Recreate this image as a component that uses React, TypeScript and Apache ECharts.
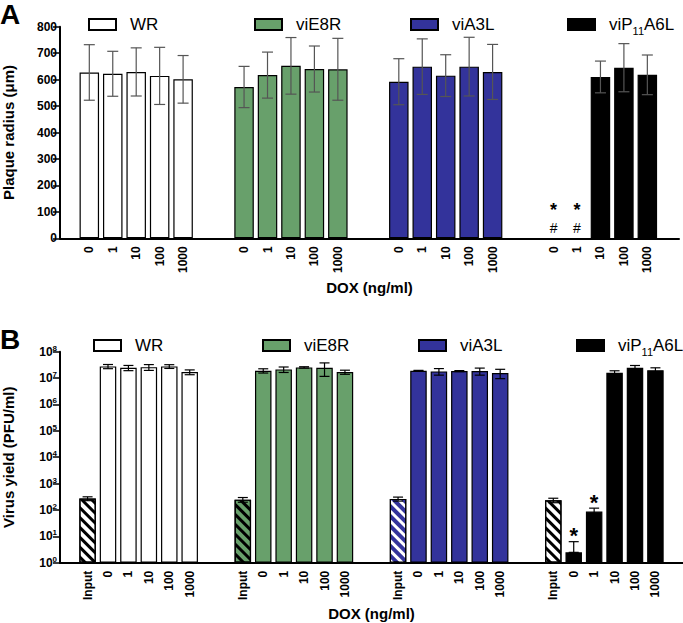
import React, { useEffect, useRef } from "react";
import * as echarts from "echarts";

// ---------- data ----------
const groupNames = ["WR", "viE8R", "viA3L", "viP11A6L"];
const groupColors = ["#ffffff", "#68a06b", "#33339b", "#000000"];
const inputColors = ["#ffffff", "#68a06b", "#33339b", "#ffffff"];
const stripeColors = ["#000000", "#000000", "#ffffff", "#000000"];

const doxLabelsA = ["0", "1", "10", "100", "1000"];
const doxLabelsB = ["Input", "0", "1", "10", "100", "1000"];

// Panel A: plaque radius (µm), mean and SD
const wrRadius = [627, 622, 629, 614, 601];
const wrRadiusSD = [105, 85, 91, 108, 90];
const e8rRadius = [572, 617, 652, 640, 639];
const e8rRadiusSD = [78, 87, 107, 87, 117];
const a3lRadius = [592, 649, 615, 649, 629];
const a3lRadiusSD = [87, 105, 79, 111, 104];
const a6lRadius = [null, null, 610, 645, 618];
const a6lRadiusSD = [null, null, 60, 91, 75];

// Panel B: virus yield (PFU/ml), mean and SD
const wrYield = [270, 2.77e7, 2.46e7, 2.6e7, 2.77e7, 1.69e7];
const wrYieldSD = [45, 5e6, 5.5e6, 6.5e6, 4.5e6, 3.5e6];
const e8rYield = [246, 1.9e7, 2.13e7, 2.54e7, 2.46e7, 1.69e7];
const e8rYieldSD = [50, 3.5e6, 5e6, 1.5e6, 1.3e7, 3e6];
const a3lYield = [262, 1.9e7, 1.79e7, 1.84e7, 1.84e7, 1.55e7];
const a3lYieldSD = [45, 6e5, 5e6, 8e5, 5.5e6, 6e6];
const a6lYield = [233, 2.47, 87, 1.59e7, 2.45e7, 2.0e7];
const a6lYieldSD = [45, 3.8, 30, 3e6, 5.5e6, 4.5e6];

// significance marks (viP11A6L group)
const sigRadiusIdx = [0, 1];
const sigRadiusMarks = ["*", "#"];
const sigYieldIdx = [1, 2];

const radiusMeans = [wrRadius, e8rRadius, a3lRadius, a6lRadius];
const radiusSDs = [wrRadiusSD, e8rRadiusSD, a3lRadiusSD, a6lRadiusSD];
const yieldMeans = [wrYield, e8rYield, a3lYield, a6lYield];
const yieldSDs = [wrYieldSD, e8rYieldSD, a3lYieldSD, a6lYieldSD];

// ---------- layout helpers ----------
const SUB = 10;
const GAP = 26;
const FONT = "'Liberation Sans', Arial, sans-serif";

function buildLayout(labels: string[], lead: number, total: number) {
  const span = (labels.length - 1) * SUB + GAP;
  const pos = groupNames.map((_, g) => labels.map((_, i) => lead + g * span + i * SUB));
  const cats: string[] = new Array(total).fill("");
  pos.forEach((row) => row.forEach((p, i) => (cats[p] = labels[i])));
  return { pos, cats };
}

const layA = buildLayout(doxLabelsA, 12, 264);
const layB = buildLayout(doxLabelsB, 13, 305);

function decalFor(g: number) {
  return {
    symbol: "rect",
    symbolSize: 1,
    dashArrayX: [[1, 0]],
    dashArrayY: [3, 4],
    rotation: Math.PI / 4,
    color: stripeColors[g],
  };
}

function errRender(color: string, cap: number) {
  return (params: any, api: any) => {
    const x = api.value(0);
    const lo = api.coord([x, api.value(1)]);
    const hi = api.coord([x, api.value(2)]);
    const style = { stroke: color, lineWidth: 1.2 };
    return {
      type: "group",
      children: [
        { type: "line", shape: { x1: lo[0], y1: lo[1], x2: hi[0], y2: hi[1] }, style },
        { type: "line", shape: { x1: hi[0] - cap, y1: hi[1], x2: hi[0] + cap, y2: hi[1] }, style },
        { type: "line", shape: { x1: lo[0] - cap, y1: lo[1], x2: lo[0] + cap, y2: lo[1] }, style },
      ],
    };
  };
}

export default function App() {
  const ref = useRef<HTMLDivElement>(null);
  useEffect(() => {
    const chart = echarts.init(ref.current!, undefined, { renderer: "svg" });

    const series: any[] = [];
    // Panel A bars
    groupNames.forEach((name, g) => {
      const data: any[] = new Array(layA.cats.length).fill(null);
      layA.pos[g].forEach((p, i) => (data[p] = radiusMeans[g][i]));
      series.push({
        name,
        type: "bar",
        xAxisIndex: 0,
        yAxisIndex: 0,
        barWidth: 19.5,
        barGap: "-100%",
        itemStyle: { color: groupColors[g], borderColor: "#000", borderWidth: 1.2 },
        data,
      });
    });
    // Panel A error bars
    const errA: any[] = [];
    groupNames.forEach((_, g) =>
      layA.pos[g].forEach((p, i) => {
        const m = radiusMeans[g][i];
        const s = radiusSDs[g][i];
        if (m != null && s != null) errA.push([p, m - s, m + s]);
      })
    );
    series.push({
      type: "custom",
      xAxisIndex: 0,
      yAxisIndex: 0,
      z: 5,
      encode: { x: 0, y: [1, 2] },
      renderItem: errRender("#555", 5.5),
      data: errA,
    });
    // Panel A significance marks
    const sigA = sigRadiusIdx.map((i) => [layA.pos[3][i], 0]);
    series.push({
      type: "custom",
      xAxisIndex: 0,
      yAxisIndex: 0,
      z: 6,
      encode: { x: 0, y: 1 },
      renderItem: (params: any, api: any) => {
        const c = api.coord([api.value(0), api.value(1)]);
        return {
          type: "group",
          children: [
            {
              type: "text",
              x: c[0],
              y: c[1] - 28.5,
              style: { text: sigRadiusMarks[0], fontSize: 18, fontWeight: "bold", fontFamily: FONT, fill: "#000", align: "center", verticalAlign: "middle" },
            },
            {
              type: "text",
              x: c[0],
              y: c[1] - 10,
              style: { text: sigRadiusMarks[1], fontSize: 14, fontFamily: FONT, fill: "#000", align: "center", verticalAlign: "middle" },
            },
          ],
        };
      },
      data: sigA,
    });

    // Panel B bars
    groupNames.forEach((name, g) => {
      const data: any[] = new Array(layB.cats.length).fill(null);
      layB.pos[g].forEach((p, i) => {
        const v = yieldMeans[g][i];
        data[p] =
          i === 0
            ? { value: v, itemStyle: { color: inputColors[g], decal: decalFor(g) } }
            : v;
      });
      series.push({
        name,
        type: "bar",
        xAxisIndex: 1,
        yAxisIndex: 1,
        barWidth: 16.5,
        barGap: "-100%",
        itemStyle: { color: groupColors[g], borderColor: "#000", borderWidth: 1.2 },
        data,
      });
    });
    const errB: any[] = [];
    groupNames.forEach((_, g) =>
      layB.pos[g].forEach((p, i) => {
        const m = yieldMeans[g][i];
        const s = yieldSDs[g][i];
        const lo = m - s > 0 ? m - s : m;
        errB.push([p, lo, m + s]);
      })
    );
    series.push({
      type: "custom",
      xAxisIndex: 1,
      yAxisIndex: 1,
      z: 5,
      encode: { x: 0, y: [1, 2] },
      renderItem: errRender("#000", 5),
      data: errB,
    });
    const sigB = sigYieldIdx.map((i) => [layB.pos[3][i], yieldMeans[3][i] + yieldSDs[3][i]]);
    series.push({
      type: "custom",
      xAxisIndex: 1,
      yAxisIndex: 1,
      z: 6,
      encode: { x: 0, y: 1 },
      renderItem: (params: any, api: any) => {
        const c = api.coord([api.value(0), api.value(1)]);
        return {
          type: "text",
          x: c[0],
          y: c[1] + 5,
          style: { text: "*", fontSize: 22, fontWeight: "bold", fontFamily: FONT, fill: "#000", align: "center", verticalAlign: "bottom" },
        };
      },
      data: sigB,
    });

    const legendPosA = [88, 254, 410, 567];
    const legendPosB = [93, 262, 418, 576];
    const mkLegend = (left: number, top: number, name: string) => ({
      data: [name],
      left,
      top,
      padding: 0,
      icon: "rect",
      itemWidth: 27,
      itemHeight: 11,
      selectedMode: false,
      formatter: (n: string) => (n === "viP11A6L" ? "{n|viP}{s|11}{n|A6L}" : n),
      textStyle: {
        fontSize: 17,
        fontFamily: FONT,
        color: "#000",
        padding: [0, 0, 0, 9],
        rich: {
          n: { fontSize: 17, fontFamily: FONT, color: "#000", lineHeight: 24 },
          s: { fontSize: 11, fontFamily: FONT, color: "#000", lineHeight: 11, verticalAlign: "bottom" },
        },
      },
    });
    const legends = [
      ...groupNames.map((n, g) => mkLegend(legendPosA[g], 16, n)),
      ...groupNames.map((n, g) => mkLegend(legendPosB[g], 337, n)),
    ];

    const xAxisCommon = (cats: string[], grid: number) => ({
      type: "category",
      gridIndex: grid,
      data: cats,
      name: "DOX (ng/ml)",
      nameLocation: "middle",
      nameGap: 42,
      nameTextStyle: { fontSize: 15, fontWeight: "bold", fontFamily: FONT, color: "#000" },
      axisLine: { lineStyle: { color: "#000", width: 2 } },
      axisTick: {
        alignWithLabel: true,
        interval: (i: number, v: string) => v !== "",
        length: 6,
        lineStyle: { color: "#000", width: 1.5 },
      },
      axisLabel: {
        interval: 0,
        rotate: 90,
        fontSize: 12,
        fontWeight: "bold",
        fontFamily: FONT,
        color: "#000",
        margin: 8,
      },
      splitLine: { show: false },
    });

    const option: any = {
      animation: false,
      title: [
        { text: "A", left: 0, top: 0, padding: 0, textStyle: { fontSize: 28, fontWeight: "bold", fontFamily: FONT, color: "#000" } },
        { text: "B", left: 0, top: 325, padding: 0, textStyle: { fontSize: 28, fontWeight: "bold", fontFamily: FONT, color: "#000" } },
      ],
      legend: legends,
      grid: [
        { left: 60, right: 4, top: 26.7, height: 211.6, outerBoundsMode: "none", containLabel: false },
        { left: 60, right: 0, top: 351.7, height: 211, outerBoundsMode: "none", containLabel: false },
      ],
      xAxis: [xAxisCommon(layA.cats, 0), { ...xAxisCommon(layB.cats, 1), nameGap: 43 }],
      yAxis: [
        {
          type: "value",
          gridIndex: 0,
          min: 0,
          max: 800,
          interval: 100,
          name: "Plaque radius (μm)",
          nameLocation: "middle",
          nameRotate: 90,
          nameGap: 44,
          nameTextStyle: { fontSize: 15, fontWeight: "bold", fontFamily: FONT, color: "#000" },
          axisLine: { show: true, lineStyle: { color: "#000", width: 2 } },
          axisTick: { show: true, length: 7, lineStyle: { color: "#000", width: 1.5 } },
          axisLabel: { fontSize: 12, fontWeight: "bold", fontFamily: FONT, color: "#000", margin: 3 },
          splitLine: { show: false },
        },
        {
          type: "log",
          logBase: 10,
          gridIndex: 1,
          min: 1,
          max: 1e8,
          interval: 1,
          name: "Virus yield (PFU/ml)",
          nameLocation: "middle",
          nameRotate: 90,
          nameGap: 44,
          nameTextStyle: { fontSize: 15, fontWeight: "bold", fontFamily: FONT, color: "#000" },
          axisLine: { show: true, lineStyle: { color: "#000", width: 2 } },
          axisTick: { show: true, length: 7, lineStyle: { color: "#000", width: 1.5 } },
          minorTick: { show: false },
          axisLabel: {
            margin: 3,
            color: "#000",
            formatter: (v: number) => `{b|10}{s|${Math.round(Math.log10(v))}}`,
            rich: {
              b: { fontSize: 12, fontWeight: "bold", fontFamily: FONT, color: "#000" },
              s: { fontSize: 8, fontWeight: "bold", fontFamily: FONT, color: "#000", padding: [0, 0, 7, 0] },
            },
          },
          splitLine: { show: false },
        },
      ],
      series,
    };
    chart.setOption(option);
    return () => chart.dispose();
  }, []);
  return (
    <div
      ref={ref}
      style={{ position: "fixed", left: 0, top: 0, width: 683, height: 623, background: "#fff" }}
    />
  );
}
